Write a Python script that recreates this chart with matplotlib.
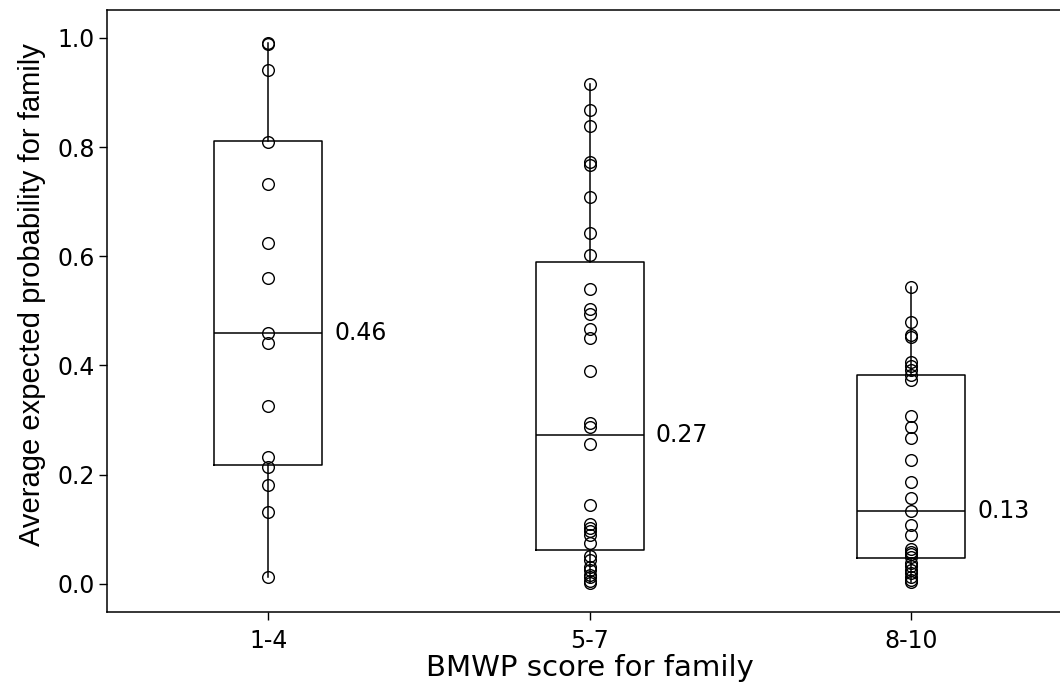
import numpy as np
import matplotlib
matplotlib.use('Agg')
import matplotlib.pyplot as plt

plt.rcParams['font.family'] = ['DejaVu Sans']

# BMWP groups and values
GROUPS = ['1-4', '5-7', '8-10']

pts_1_4 = [0.991, 0.988, 0.941, 0.810, 0.733, 0.625, 0.561, 0.459, 0.441,
           0.326, 0.233, 0.215, 0.182, 0.132, 0.013]
pts_5_7 = [0.915, 0.868, 0.839, 0.772, 0.768, 0.708, 0.643, 0.602, 0.540,
           0.503, 0.494, 0.466, 0.450, 0.390, 0.295, 0.287, 0.256, 0.145,
           0.109, 0.103, 0.097, 0.090, 0.075, 0.051, 0.044, 0.031, 0.026,
           0.017, 0.012, 0.006, 0.002]
pts_8_10 = [0.543, 0.479, 0.456, 0.452, 0.407, 0.399, 0.392, 0.383, 0.373,
            0.308, 0.287, 0.268, 0.227, 0.186, 0.157, 0.134, 0.107, 0.089,
            0.064, 0.059, 0.055, 0.050, 0.038, 0.032, 0.026, 0.020, 0.013,
            0.007, 0.004]

q1s = [0.217, 0.062, 0.048]
medians = [0.460, 0.272, 0.134]
q3s = [0.811, 0.589, 0.383]
median_labels = ['0.46', '0.27', '0.13']

points = [pts_1_4, pts_5_7, pts_8_10]
positions = [1, 2, 3]

fig = plt.figure(figsize=(10.6, 6.95), dpi=100)
ax = fig.add_axes([0.1014, 0.119, 0.9099, 0.8666])

stats = []
for i in range(3):
    stats.append({
        'med': medians[i], 'q1': q1s[i], 'q3': q3s[i],
        'whislo': min(points[i]), 'whishi': max(points[i]),
        'fliers': [], 'label': GROUPS[i],
    })

line_kw = dict(color='black', linewidth=1.1)
ax.bxp(stats, positions=positions, widths=0.335, showcaps=False,
       boxprops=line_kw, whiskerprops=line_kw, medianprops=line_kw,
       manage_ticks=False)

for pos, vals in zip(positions, points):
    ax.plot(np.full(len(vals), pos), vals, 'o', markersize=8.4,
            markerfacecolor='none', markeredgecolor='black',
            markeredgewidth=1.0, zorder=3)

for pos, med, lab in zip(positions, medians, median_labels):
    ax.text(pos + 0.205, med, lab, fontsize=17, va='center', ha='left')

ax.set_xlim(0.5, 3.5)
ax.set_ylim(-0.052, 1.051)
ax.set_xticks(positions)
ax.set_xticklabels(GROUPS)
ax.set_yticks([0.0, 0.2, 0.4, 0.6, 0.8, 1.0])
ax.set_yticklabels(['0.0', '0.2', '0.4', '0.6', '0.8', '1.0'])
ax.tick_params(axis='both', labelsize=17, length=6, width=1.0, colors='black')
ax.tick_params(axis='x', pad=6)
ax.tick_params(axis='y', pad=3)
for s in ax.spines.values():
    s.set_linewidth(1.1)

ax.set_xlabel('BMWP score for family', fontsize=21, labelpad=1)
ax.set_ylabel('Average expected probability for family', fontsize=21,
              family=['Liberation Sans', 'DejaVu Sans'])
ax.yaxis.set_label_coords(-0.064, 0.527)

fig.savefig('out.png', dpi=100)
